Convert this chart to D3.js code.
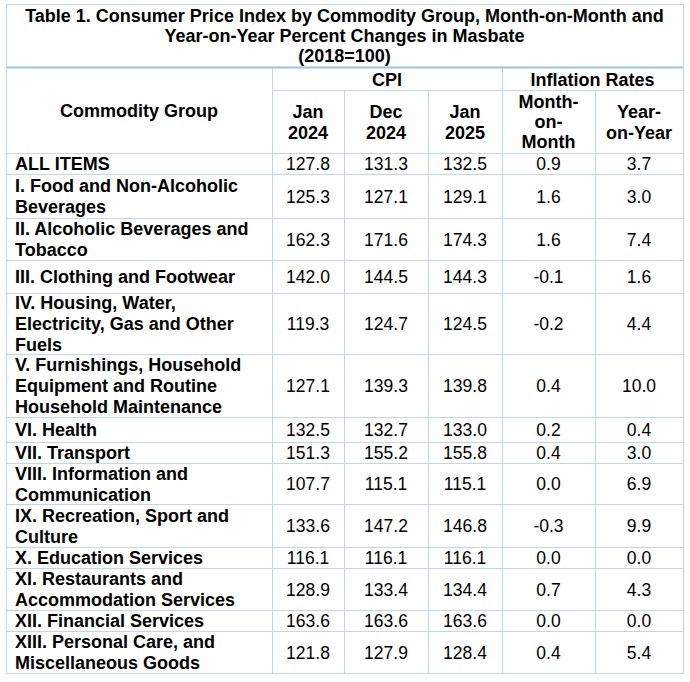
<!DOCTYPE html>
<html>
<head>
<meta charset="utf-8">
<script src="https://cdn.jsdelivr.net/npm/d3@7"></script>
<style>
  html, body { margin: 0; padding: 0; background: #ffffff; }
  svg { display: block; }
  text { font-family: Arial, "Liberation Sans", sans-serif; fill: #000; }
</style>
</head>
<body>
<svg id="chart" width="690" height="682"></svg>
<script>
// ---------------- DATA ----------------
const titleLines = [
  "Table 1. Consumer Price Index by Commodity Group, Month-on-Month and",
  "Year-on-Year Percent Changes in Masbate",
  "(2018=100)"
];
const headerGroupLabel = "Commodity Group";
const cpiLabel = "CPI";
const inflationLabel = "Inflation Rates";
const columnHeaders = [["Jan", "2024"], ["Dec", "2024"], ["Jan", "2025"], ["Month-", "on-", "Month"], ["Year-", "on-Year"]];

const categories = [
  ["ALL ITEMS"],
  ["I. Food and Non-Alcoholic", "Beverages"],
  ["II. Alcoholic Beverages and", "Tobacco"],
  ["III. Clothing and Footwear"],
  ["IV. Housing, Water,", "Electricity, Gas and Other", "Fuels"],
  ["V. Furnishings, Household", "Equipment and Routine", "Household Maintenance"],
  ["VI. Health"],
  ["VII. Transport"],
  ["VIII. Information and", "Communication"],
  ["IX. Recreation, Sport and", "Culture"],
  ["X. Education Services"],
  ["XI. Restaurants and", "Accommodation Services"],
  ["XII. Financial Services"],
  ["XIII. Personal Care, and", "Miscellaneous Goods"]
];
const cpiJan2024 = [127.8, 125.3, 162.3, 142.0, 119.3, 127.1, 132.5, 151.3, 107.7, 133.6, 116.1, 128.9, 163.6, 121.8];
const cpiDec2024 = [131.3, 127.1, 171.6, 144.5, 124.7, 139.3, 132.7, 155.2, 115.1, 147.2, 116.1, 133.4, 163.6, 127.9];
const cpiJan2025 = [132.5, 129.1, 174.3, 144.3, 124.5, 139.8, 133.0, 155.8, 115.1, 146.8, 116.1, 134.4, 163.6, 128.4];
const momRate    = [0.9, 1.6, 1.6, -0.1, -0.2, 0.4, 0.2, 0.4, 0.0, -0.3, 0.0, 0.7, 0.0, 0.4];
const yoyRate    = [3.7, 3.0, 7.4, 1.6, 4.4, 10.0, 0.4, 3.0, 6.9, 9.9, 0.0, 4.3, 0.0, 5.4];

// ---------------- LAYOUT ----------------
const colEdges = [6, 272, 344, 428, 502, 595, 683];
const tableTop = 4, titleBottom = 67, subHeadTop = 90, headBottom = 153;
const rowHeights = [21, 44, 42, 33, 61, 63, 25, 21, 41, 43, 21, 42, 21, 42];
const FS = 17.5, BOLD_FS = 18, TITLE_FS = 18, LINE = 21;
const thin = "#bdd7ee", thick = "#9dc3e6";

const svg = d3.select("#chart");
const seriesCols = [cpiJan2024, cpiDec2024, cpiJan2025, momRate, yoyRate];
const fmt = d3.formatLocale({ decimal: ".", thousands: ",", grouping: [3], currency: ["", ""], minus: "-" }).format(".1f");

const rowEdges = [headBottom];
rowHeights.forEach(h => rowEdges.push(rowEdges[rowEdges.length - 1] + h));
const tableBottom = rowEdges[rowEdges.length - 1];

const colCenter = i => (colEdges[i] + colEdges[i + 1]) / 2;

function multiline(g, lines, x, cy, anchor, weight, fs, lh) {
  const n = lines.length;
  lines.forEach((t, k) => {
    g.append("text")
      .attr("x", x)
      .attr("y", cy + (k - (n - 1) / 2) * lh + fs * 0.358)
      .attr("text-anchor", anchor)
      .attr("font-weight", weight)
      .attr("font-size", fs)
      .text(t);
  });
}

const gLines = svg.append("g");
const gText = svg.append("g");

// Title
multiline(gText, titleLines, (colEdges[0] + colEdges[6]) / 2, (tableTop + titleBottom) / 2, "middle", "bold", TITLE_FS, 20);

// Headers
multiline(gText, [headerGroupLabel], (colEdges[0] + colEdges[1]) / 2, (titleBottom + headBottom) / 2 + 1, "middle", "bold", BOLD_FS, LINE);
multiline(gText, [cpiLabel], (colEdges[1] + colEdges[4]) / 2, (titleBottom + subHeadTop) / 2 + 1, "middle", "bold", BOLD_FS, LINE);
multiline(gText, [inflationLabel], (colEdges[4] + colEdges[6]) / 2, (titleBottom + subHeadTop) / 2 + 1, "middle", "bold", BOLD_FS, LINE);
columnHeaders.forEach((h, i) => {
  multiline(gText, h, colCenter(i + 1), (subHeadTop + headBottom) / 2 + 0.5, "middle", "bold", BOLD_FS, h.length > 2 ? 20 : LINE);
});

// Body rows
categories.forEach((cat, r) => {
  const cy = (rowEdges[r] + rowEdges[r + 1]) / 2 + 0.5;
  multiline(gText, cat, colEdges[0] + 9, cy, "start", "bold", BOLD_FS, LINE);
  seriesCols.forEach((arr, c) => {
    multiline(gText, [fmt(arr[r])], colCenter(c + 1), cy, "middle", "normal", FS, LINE);
  });
});

// Grid lines
function hline(y, x1, x2, color, w) {
  gLines.append("line").attr("x1", x1).attr("x2", x2).attr("y1", y).attr("y2", y)
    .attr("stroke", color).attr("stroke-width", w);
}
function vline(x, y1, y2, color, w) {
  gLines.append("line").attr("x1", x).attr("x2", x).attr("y1", y1).attr("y2", y2)
    .attr("stroke", color).attr("stroke-width", w);
}
hline(tableTop + 0.5, colEdges[0], colEdges[6], thin, 1);
hline(subHeadTop + 0.5, colEdges[1], colEdges[6], thin, 1);
hline(headBottom + 0.5, colEdges[0], colEdges[6], thin, 1);
rowEdges.slice(1).forEach(y => hline(y + 0.5, colEdges[0], colEdges[6], thin, 1));
hline(titleBottom + 0.5, colEdges[0], colEdges[6], thick, 2);
vline(colEdges[0] + 0.5, tableTop, tableBottom + 1, thin, 1);
vline(colEdges[6] + 0.5, tableTop, tableBottom + 1, thin, 1);
vline(colEdges[1] + 0.5, titleBottom + 1, tableBottom + 1, thin, 1);
vline(colEdges[4] + 0.5, titleBottom + 1, tableBottom + 1, thin, 1);
[2, 3, 5].forEach(i => vline(colEdges[i] + 0.5, subHeadTop, tableBottom + 1, thin, 1));
</script>
</body>
</html>
